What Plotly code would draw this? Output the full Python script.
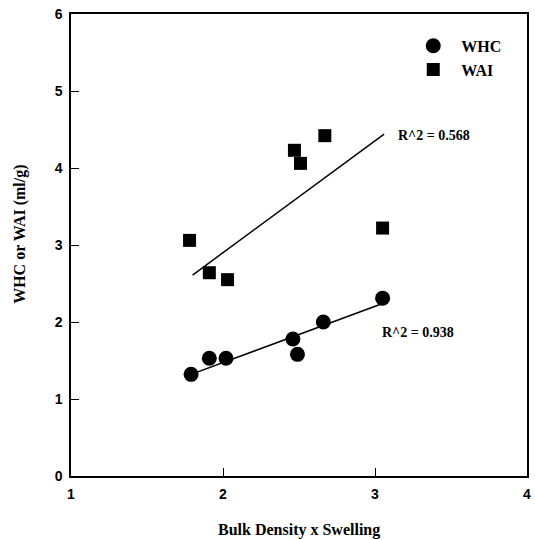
import plotly.graph_objects as go

# Data
whc_x = [1.79, 1.91, 2.02, 2.46, 2.49, 2.66, 3.05]
whc_y = [1.32, 1.53, 1.53, 1.78, 1.58, 2.00, 2.31]
wai_x = [1.78, 1.91, 2.03, 2.47, 2.51, 2.67, 3.05]
wai_y = [3.06, 2.64, 2.55, 4.23, 4.06, 4.42, 3.22]

# Regression lines as drawn (end points)
whc_fit_x = [1.79, 3.05]
whc_fit_y = [1.32, 2.24]
wai_fit_x = [1.80, 3.06]
wai_fit_y = [2.61, 4.44]

r2_labels = ["R^2 = 0.568", "R^2 = 0.938"]
x_ticks = [1, 2, 3, 4]
y_ticks = [0, 1, 2, 3, 4, 5, 6]

serif = "Times New Roman, Liberation Serif, serif"
sans = "Arial, Liberation Sans, sans-serif"

fig = go.Figure()
fig.add_trace(go.Scatter(x=whc_fit_x, y=whc_fit_y, mode="lines",
                         line=dict(color="black", width=1.5), showlegend=False))
fig.add_trace(go.Scatter(x=wai_fit_x, y=wai_fit_y, mode="lines",
                         line=dict(color="black", width=1.5), showlegend=False))
fig.add_trace(go.Scatter(x=whc_x, y=whc_y, mode="markers", name="WHC",
                         marker=dict(symbol="circle", size=15, color="black")))
fig.add_trace(go.Scatter(x=wai_x, y=wai_y, mode="markers", name="WAI",
                         marker=dict(symbol="square", size=13, color="black")))

fig.add_annotation(x=3.14, y=4.42, text="<b>" + r2_labels[0] + "</b>", showarrow=False,
                   xanchor="left", yanchor="middle",
                   font=dict(family=serif, size=14, color="black"))
fig.add_annotation(x=3.03, y=1.87, text="<b>" + r2_labels[1] + "</b>", showarrow=False,
                   xanchor="left", yanchor="middle",
                   font=dict(family=serif, size=14, color="black"))

# axis titles
fig.add_annotation(xref="paper", yref="paper", x=-0.112, y=0.524,
                   text="<b>WHC or WAI (ml/g)</b>", textangle=-90, showarrow=False,
                   xanchor="center", yanchor="middle",
                   font=dict(family=serif, size=16, color="black"))
fig.add_annotation(xref="paper", yref="paper", x=0.5, y=-0.117,
                   text="<b>Bulk Density x Swelling</b>", showarrow=False,
                   xanchor="center", yanchor="middle",
                   font=dict(family=serif, size=16, color="black"))

fig.update_layout(
    width=535, height=540,
    margin=dict(l=71, r=8, t=14, b=64, autoexpand=False),
    paper_bgcolor="white", plot_bgcolor="white",
    legend=dict(x=0.733, y=0.968, xanchor="left", yanchor="top",
                font=dict(family=serif, size=16, color="black", weight="bold"),
                bgcolor="rgba(0,0,0,0)", itemwidth=46, tracegroupgap=2),
    xaxis=dict(range=[1, 4], tickvals=x_ticks, showgrid=False, zeroline=False,
               showline=True, linecolor="black", linewidth=1.5, mirror=True,
               ticks="inside", ticklen=8, tickcolor="black", automargin=False,
               ticklabeloverflow="allow", ticklabelstandoff=4,
               tickfont=dict(family=sans, size=14, color="black", weight="bold")),
    yaxis=dict(range=[0, 6], tickvals=y_ticks, showgrid=False, zeroline=False,
               showline=True, linecolor="black", linewidth=1.5, mirror=True,
               ticks="inside", ticklen=8, tickcolor="black", automargin=False,
               ticklabelstandoff=4, ticklabeloverflow="allow",
               tickfont=dict(family=sans, size=14, color="black", weight="bold")),
)

# remove the default 8px body margin of the page so the figure fills the window
fig.write_html("out.html", config={"displayModeBar": False},
               post_script="document.body.style.margin='0px';document.body.style.overflow='hidden';")
